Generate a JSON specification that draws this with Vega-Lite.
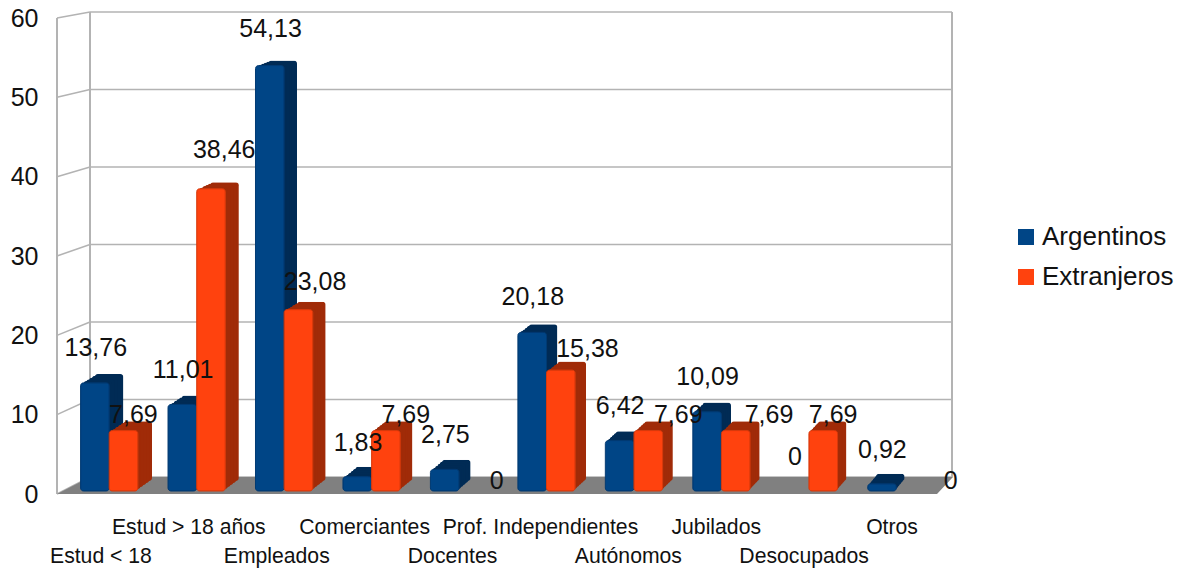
{"$schema":"https://vega.github.io/schema/vega-lite/v6.json","autosize":"none","padding":{"left":57,"top":18,"right":248,"bottom":78},"width":879,"height":476,"background":"white","config":{"view":{"stroke":null},"font":"Liberation Sans"},
"datasets":{"filas":[
{"cat":"Estud < 18","n":0,"serie":"Argentinos","v":13.76,"t":"13,76"},{"cat":"Estud < 18","n":0,"serie":"Extranjeros","v":7.69,"t":"7,69"},
{"cat":"Estud > 18 años","n":1,"serie":"Argentinos","v":11.01,"t":"11,01"},{"cat":"Estud > 18 años","n":1,"serie":"Extranjeros","v":38.46,"t":"38,46"},
{"cat":"Empleados","n":2,"serie":"Argentinos","v":54.13,"t":"54,13"},{"cat":"Empleados","n":2,"serie":"Extranjeros","v":23.08,"t":"23,08"},
{"cat":"Comerciantes","n":3,"serie":"Argentinos","v":1.83,"t":"1,83"},{"cat":"Comerciantes","n":3,"serie":"Extranjeros","v":7.69,"t":"7,69"},
{"cat":"Docentes","n":4,"serie":"Argentinos","v":2.75,"t":"2,75"},{"cat":"Docentes","n":4,"serie":"Extranjeros","v":0,"t":"0"},
{"cat":"Prof. Independientes","n":5,"serie":"Argentinos","v":20.18,"t":"20,18"},{"cat":"Prof. Independientes","n":5,"serie":"Extranjeros","v":15.38,"t":"15,38"},
{"cat":"Autónomos","n":6,"serie":"Argentinos","v":6.42,"t":"6,42"},{"cat":"Autónomos","n":6,"serie":"Extranjeros","v":7.69,"t":"7,69"},
{"cat":"Jubilados","n":7,"serie":"Argentinos","v":10.09,"t":"10,09"},{"cat":"Jubilados","n":7,"serie":"Extranjeros","v":7.69,"t":"7,69"},
{"cat":"Desocupados","n":8,"serie":"Argentinos","v":0,"t":"0"},{"cat":"Desocupados","n":8,"serie":"Extranjeros","v":7.69,"t":"7,69"},
{"cat":"Otros","n":9,"serie":"Argentinos","v":0.92,"t":"0,92"},{"cat":"Otros","n":9,"serie":"Extranjeros","v":0,"t":"0"}
]},
"data":{"name":"filas"},
"resolve":{"scale":{"x":"independent","y":"independent"},"axis":{"x":"independent","y":"independent"}},
"layer":[
{"data":{"values":[{"tick":0,"back":2.14},{"tick":10,"back":11.91},{"tick":20,"back":21.68},{"tick":30,"back":31.45},{"tick":40,"back":41.21},{"tick":50,"back":50.98},{"tick":60,"back":60.75}]},
"encoding":{"y":{"field":"tick","type":"quantitative","title":null,"scale":{"domain":[0,60],"nice":false},"axis":{"values":[0,10,20,30,40,50,60],"domain":false,"ticks":false,"grid":false,"labelFontSize":25,"labelColor":"#111111","labelPadding":19,"labelFont":"Liberation Sans"}},"x":{"datum":0,"type":"quantitative","scale":{"domain":[0,879],"nice":false,"zero":false},"axis":null}},
"layer":[
{"mark":{"type":"rule","color":"#b3b3b3","strokeWidth":1.5},"encoding":{"x":{"datum":33,"type":"quantitative"},"x2":{"datum":895},"y":{"field":"back","type":"quantitative"}}},
{"mark":{"type":"rule","color":"#b3b3b3","strokeWidth":1.5},"encoding":{"x":{"datum":0,"type":"quantitative"},"x2":{"datum":33},"y":{"field":"tick","type":"quantitative"},"y2":{"field":"back"}}},
{"mark":{"type":"rule","color":"#b3b3b3","strokeWidth":1.5},"encoding":{"x":{"datum":0,"type":"quantitative"},"y":{"datum":0,"type":"quantitative"},"y2":{"datum":60}}},
{"mark":{"type":"rule","color":"#b3b3b3","strokeWidth":1.5},"encoding":{"x":{"datum":33,"type":"quantitative"},"y":{"datum":2.14,"type":"quantitative"},"y2":{"datum":60.75}}},
{"mark":{"type":"rule","color":"#b3b3b3","strokeWidth":1.5},"encoding":{"x":{"datum":895,"type":"quantitative"},"y":{"datum":2.14,"type":"quantitative"},"y2":{"datum":60.75}}}
]},
{"data":{"values":[{"d":0,"lo":0,"hi":0},{"d":33,"lo":0,"hi":2.14},{"d":880,"lo":0,"hi":2.14},{"d":896,"lo":2.14,"hi":2.14}]},"mark":{"type":"area","orient":"vertical","fill":"#808080","opacity":1},"encoding":{"x":{"field":"d","type":"quantitative","scale":{"domain":[0,879],"nice":false,"zero":false},"axis":null},"y":{"field":"hi","type":"quantitative","scale":{"domain":[0,60],"nice":false},"axis":null},"y2":{"field":"lo"}}},
{"transform":[{"filter":"datum.v>0"}],"mark":{"type":"bar","cornerRadius":3},"encoding":{"x":{"field":"cat","type":"nominal","sort":null,"axis":null,"scale":{"domain":["Estud < 18","Estud > 18 años","Empleados","Comerciantes","Docentes","Prof. Independientes","Autónomos","Jubilados","Desocupados","Otros"],"range":[23,891],"paddingInner":0.34,"paddingOuter":0.17}},"xOffset":{"field":"serie","type":"nominal","scale":{"domain":["Argentinos","Extranjeros"]}},"y":{"field":"v","type":"quantitative","axis":null,"scale":{"domain":[0,60],"range":[463,-3.1],"nice":false}},"fill":{"condition":{"test":"datum.serie=='Argentinos'","value":"#002b55"},"value":"#a02b08"}}},
{"transform":[{"filter":"datum.v>0"}],"mark":{"type":"bar","cornerRadius":3},"encoding":{"x":{"field":"cat","type":"nominal","sort":null,"axis":null,"scale":{"domain":["Estud < 18","Estud > 18 años","Empleados","Comerciantes","Docentes","Prof. Independientes","Autónomos","Jubilados","Desocupados","Otros"],"range":[20.14,889.46],"paddingInner":0.34,"paddingOuter":0.17}},"xOffset":{"field":"serie","type":"nominal","scale":{"domain":["Argentinos","Extranjeros"]}},"y":{"field":"v","type":"quantitative","axis":null,"scale":{"domain":[0,60],"range":[465,-2.2],"nice":false}},"fill":{"condition":{"test":"datum.serie=='Argentinos'","value":"#002b55"},"value":"#a02b08"}}},
{"transform":[{"filter":"datum.v>0"}],"mark":{"type":"bar","cornerRadius":3},"encoding":{"x":{"field":"cat","type":"nominal","sort":null,"axis":null,"scale":{"domain":["Estud < 18","Estud > 18 años","Empleados","Comerciantes","Docentes","Prof. Independientes","Autónomos","Jubilados","Desocupados","Otros"],"range":[17.28,887.92],"paddingInner":0.34,"paddingOuter":0.17}},"xOffset":{"field":"serie","type":"nominal","scale":{"domain":["Argentinos","Extranjeros"]}},"y":{"field":"v","type":"quantitative","axis":null,"scale":{"domain":[0,60],"range":[467,-1.3],"nice":false}},"fill":{"condition":{"test":"datum.serie=='Argentinos'","value":"#002b55"},"value":"#a02b08"}}},
{"transform":[{"filter":"datum.v>0"}],"mark":{"type":"bar","cornerRadius":3},"encoding":{"x":{"field":"cat","type":"nominal","sort":null,"axis":null,"scale":{"domain":["Estud < 18","Estud > 18 años","Empleados","Comerciantes","Docentes","Prof. Independientes","Autónomos","Jubilados","Desocupados","Otros"],"range":[14.42,886.38],"paddingInner":0.34,"paddingOuter":0.17}},"xOffset":{"field":"serie","type":"nominal","scale":{"domain":["Argentinos","Extranjeros"]}},"y":{"field":"v","type":"quantitative","axis":null,"scale":{"domain":[0,60],"range":[469,-0.4],"nice":false}},"fill":{"condition":{"test":"datum.serie=='Argentinos'","value":"#002b55"},"value":"#a02b08"}}},
{"transform":[{"filter":"datum.v>0"}],"mark":{"type":"bar","cornerRadius":3},"encoding":{"x":{"field":"cat","type":"nominal","sort":null,"axis":null,"scale":{"domain":["Estud < 18","Estud > 18 años","Empleados","Comerciantes","Docentes","Prof. Independientes","Autónomos","Jubilados","Desocupados","Otros"],"range":[11.56,884.84],"paddingInner":0.34,"paddingOuter":0.17}},"xOffset":{"field":"serie","type":"nominal","scale":{"domain":["Argentinos","Extranjeros"]}},"y":{"field":"v","type":"quantitative","axis":null,"scale":{"domain":[0,60],"range":[471,0.5],"nice":false}},"fill":{"condition":{"test":"datum.serie=='Argentinos'","value":"#002b55"},"value":"#a02b08"}}},
{"transform":[{"filter":"datum.v>0"}],"mark":{"type":"bar","cornerRadius":3,"strokeWidth":1},"encoding":{"x":{"field":"cat","type":"nominal","sort":null,"axis":null,"scale":{"domain":["Estud < 18","Estud > 18 años","Empleados","Comerciantes","Docentes","Prof. Independientes","Autónomos","Jubilados","Desocupados","Otros"],"range":[8.7,883.3],"paddingInner":0.34,"paddingOuter":0.17}},"xOffset":{"field":"serie","type":"nominal","scale":{"domain":["Argentinos","Extranjeros"]}},"y":{"field":"v","type":"quantitative","axis":null,"scale":{"domain":[0,60],"range":[473,1.4],"nice":false}},"stroke":{"condition":{"test":"datum.serie=='Argentinos'","value":"#003a73"},"value":"#d93a0c"},"color":{"field":"serie","type":"nominal","title":null,"scale":{"domain":["Argentinos","Extranjeros"],"range":["#004586","#ff420e"]},"legend":{"orient":"none","legendX":956,"legendY":206,"symbolType":"square","symbolSize":256,"symbolStrokeWidth":0,"symbolOpacity":1,"labelFontSize":26,"labelColor":"#111111","labelOffset":3,"rowPadding":14,"padding":0}}}},
{"encoding":{"x":{"field":"cat","type":"nominal","title":null,"sort":null,"scale":{"domain":["Estud < 18","Estud > 18 años","Empleados","Comerciantes","Docentes","Prof. Independientes","Autónomos","Jubilados","Desocupados","Otros"],"paddingInner":0.34,"paddingOuter":0.17},"axis":{"orient":"bottom","domain":false,"ticks":false,"grid":false,"labelAngle":0,"labelFontSize":21.2,"labelColor":"#111111","labelPadding":22,"labelLineHeight":29,"labelBaseline":"top","labelOverlap":false,"labelLimit":400,"labelExpr":"indexof(['Estud < 18','Empleados','Docentes','Autónomos','Desocupados'],datum.value)>=0 ? ['',datum.value] : datum.value"}},"xOffset":{"field":"serie","type":"nominal","scale":{"domain":["Argentinos","Extranjeros"]}},"y":{"field":"v","type":"quantitative","scale":{"domain":[0,60],"range":[473,1.4],"nice":false},"axis":null},"text":{"field":"t"}},
"layer":[
{"transform":[{"filter":"datum.serie=='Argentinos'"}],"mark":{"type":"text","fontSize":25,"color":"#111111","baseline":"middle","align":"center","dx":{"expr":"9.5-0.5*datum.n"},"dy":{"expr":"-34-0.05*datum.v"}}},
{"transform":[{"filter":"datum.serie=='Extranjeros'"}],"mark":{"type":"text","fontSize":25,"color":"#111111","baseline":"middle","align":"center","dx":{"expr":"datum.n==8 ? 15 : 18.5+2.9*datum.n"},"dy":{"expr":"-10-0.75*datum.v"}}}
]}
]}
